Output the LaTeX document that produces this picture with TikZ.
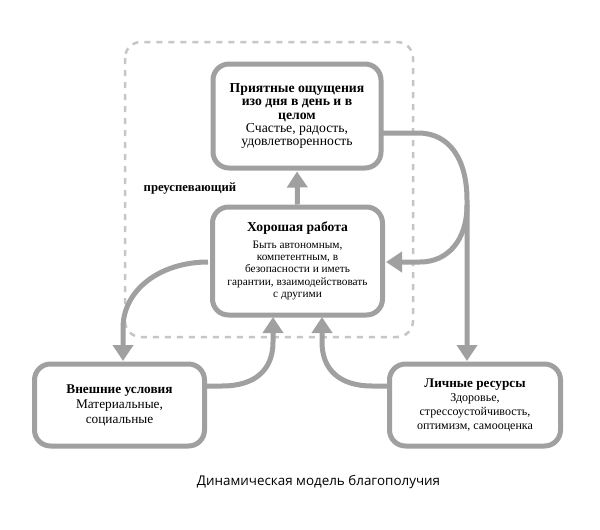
\documentclass[tikz,border=0pt]{standalone}
\usepackage{fontspec}
\setmainfont{Liberation Serif}
\newfontfamily\capfont{Open Sans}
\usetikzlibrary{arrows.meta}
\definecolor{boxgray}{HTML}{A0A0A0}
\definecolor{dashgray}{HTML}{C6C6C6}
\newcommand{\ttl}{\bfseries}
\newcommand{\bdy}{\mdseries}
\begin{document}
\begin{tikzpicture}[x=1pt,y=-1pt,
  box/.style={draw=boxgray, line width=5pt, rounded corners=16pt, fill=white, align=center, inner sep=3pt},
  conn/.style={draw=boxgray, line width=5pt, -{Triangle[width=20pt,length=16pt]}, shorten >=1pt},
  frame/.style={draw=dashgray, line width=2.5pt, dash pattern=on 6pt off 6pt, rounded corners=16pt}]
\useasboundingbox (0,0) rectangle (600,530);
\fill[white] (0,0) rectangle (600,530);
% dashed region
\draw[frame] (125,42) rectangle (413,337);
\node[font=\fontsize{12.7}{14}\selectfont\bfseries] (lbl) at (190,188) {преуспевающий};
% boxes
\node[box, minimum width=168pt, minimum height=104pt, font=\fontsize{13.7}{13.4}\selectfont] (top) at (297,116)
  {\ttl Приятные ощущения\\ \ttl изо дня в день и в\\ \ttl целом\\ \bdy Счастье, радость,\\ \bdy удовлетворенность};
\node[box, minimum width=170pt, minimum height=108pt, font=\fontsize{11.3}{12.3}\selectfont] (mid) at (297.5,261)
  {\fontsize{13.6}{12.3}\selectfont\ttl Хорошая работа\\[4pt] Быть автономным,\\ компетентным, в\\ безопасности и иметь\\ гарантии, взаимодействовать\\ с другими};
\node[box, minimum width=170pt, minimum height=82pt, font=\fontsize{13.3}{15}\selectfont] (left) at (119.5,405)
  {\ttl Внешние условия\\ \bdy Материальные,\\ \bdy социальные};
\node[box, minimum width=171pt, minimum height=82pt, font=\fontsize{12}{14}\selectfont] (right) at (475,405)
  {\fontsize{13.2}{14}\selectfont\ttl Личные ресурсы\\ \bdy Здоровье,\\ \bdy стрессоустойчивость,\\ \bdy оптимизм, самооценка};
% caption
\node[font=\capfont\fontsize{13.4}{15}\selectfont] (cap) at (318.5,482) {Динамическая модель благополучия};
% connectors
\draw[conn] (mid.north) -- (top.south);
\coordinate (a1) at (383,133);
\coordinate (a2) at (418,133);
\coordinate (a3) at (467,200);
\coordinate (a4) at (467,205);
\coordinate (a5) at (420,262);
\coordinate (a6) at (467,362);
\draw[conn] (a1) -- (a2) .. controls (450,133) and (467,160) .. (a3) -- (a6);
\draw[conn] (a4) .. controls (467,240) and (448,262) .. (a5) -- (mid.east |- a5);
\coordinate (b1) at (208,262);
\coordinate (b2) at (123,328);
\coordinate (b3) at (123,362);
\draw[conn] (b1) .. controls (160,262) and (123,290) .. (b2) -- (b3);
\coordinate (c1) at (205,386);
\coordinate (c2) at (273,342);
\coordinate (c3) at (273,316);
\draw[conn] (c1) -- (222,386) .. controls (255,386) and (273,370) .. (c2) -- (c3);
\coordinate (d1) at (390,386);
\coordinate (d2) at (322,342);
\coordinate (d3) at (322,316);
\draw[conn] (d1) -- (372,386) .. controls (340,386) and (322,370) .. (d2) -- (d3);
\end{tikzpicture}
\end{document}
